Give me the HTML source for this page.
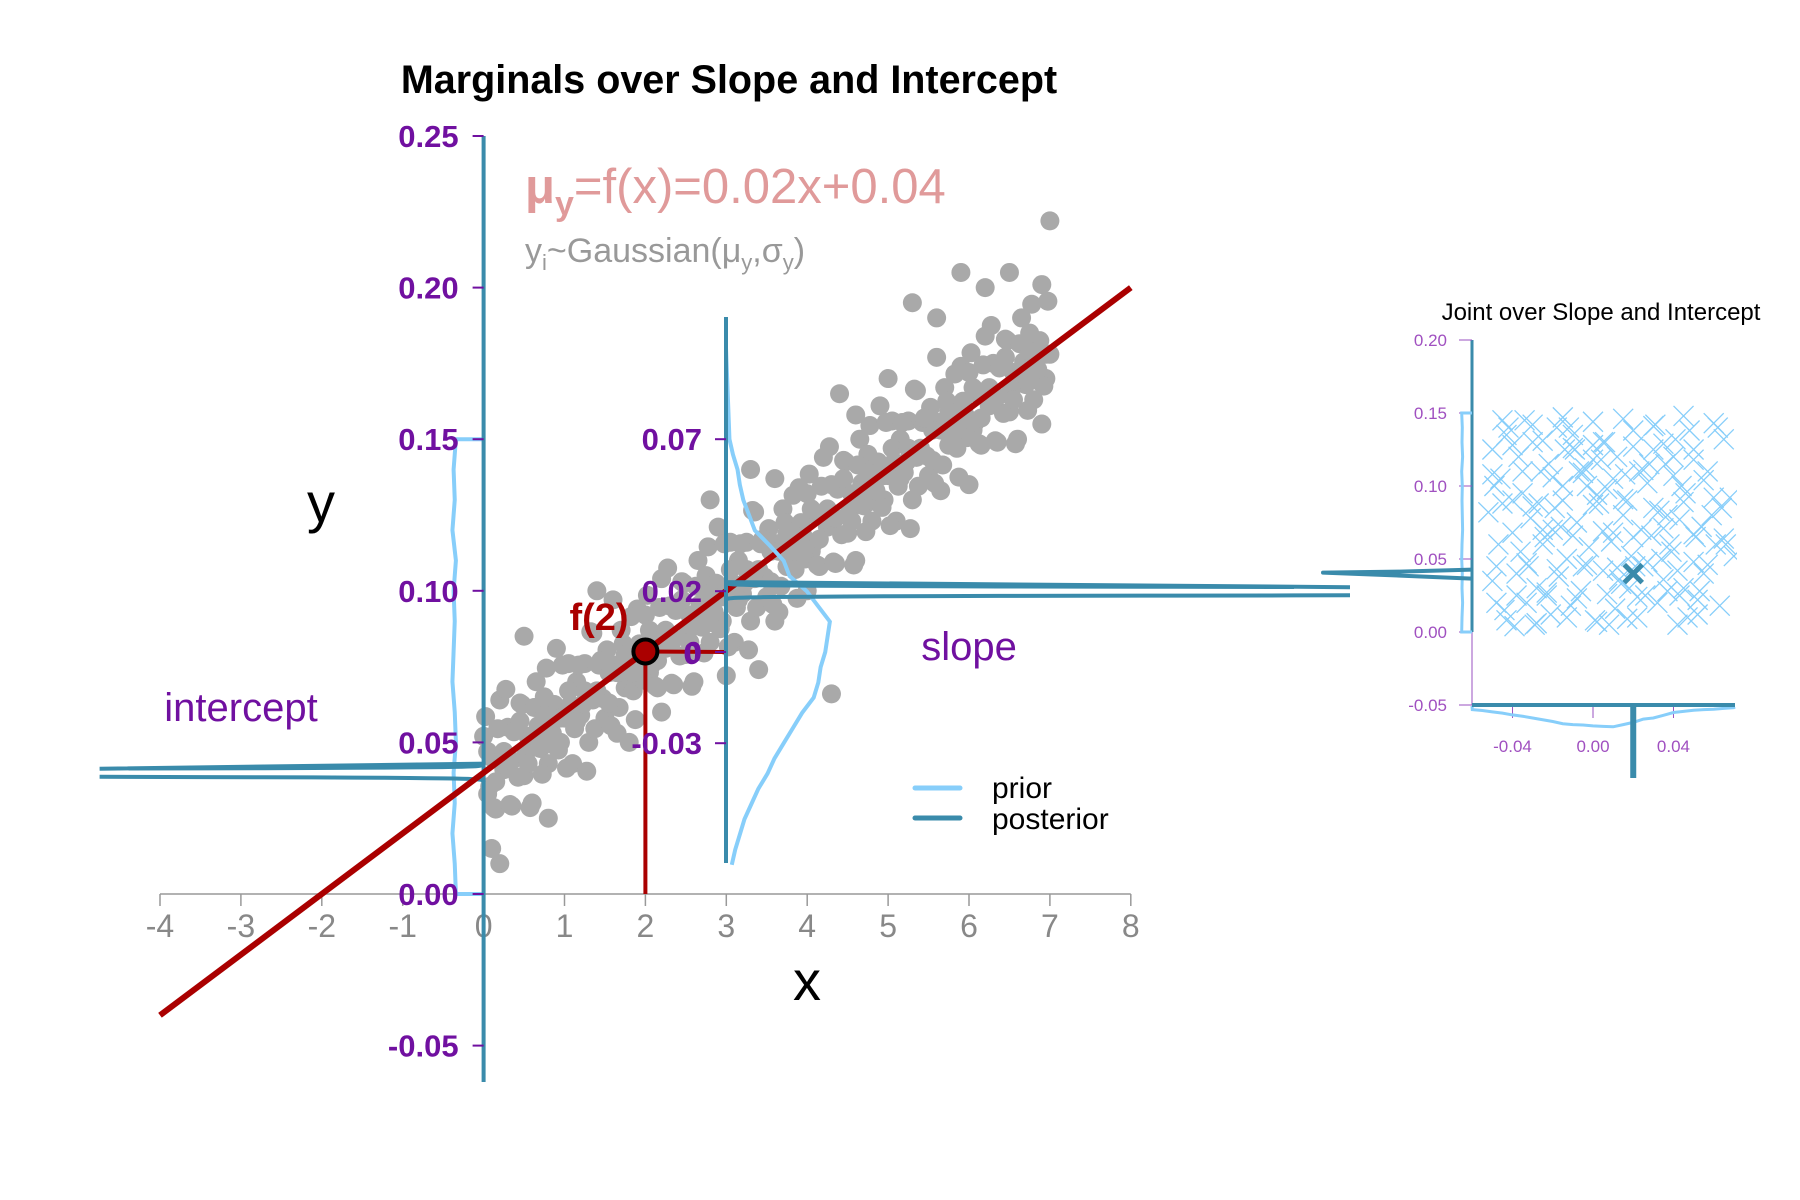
<!DOCTYPE html>
<html><head><meta charset="utf-8"><style>
html,body{margin:0;padding:0;background:#fff;}
svg{display:block;font-family:"Liberation Sans",sans-serif;}
</style></head><body>
<svg id="chart" width="1800" height="1200" viewBox="0 0 1800 1200">
<defs><clipPath id="jclip"><rect x="1300" y="390" width="437" height="260"/></clipPath></defs>
<text x="729" y="93" text-anchor="middle" font-size="39.5" font-weight="bold" fill="#000">Marginals over Slope and Intercept</text>
<g id="main"></g>
<g id="joint"></g>
<text x="525" y="203" font-size="49" fill="#e09a9a"><tspan font-weight="bold">μ</tspan><tspan font-size="34" dy="12" font-weight="bold">y</tspan><tspan dy="-12">=f(x)=0.02x+0.04</tspan></text>
<text x="525" y="262" font-size="34" fill="#999">y<tspan font-size="22" dy="8">i</tspan><tspan dy="-8">~Gaussian(μ</tspan><tspan font-size="22" dy="8">y</tspan><tspan dy="-8">,σ</tspan><tspan font-size="22" dy="8">y</tspan><tspan dy="-8">)</tspan></text>
<text x="321" y="522" font-size="56" text-anchor="middle" fill="#000">y</text>
<text x="807" y="1000" font-size="56" text-anchor="middle" fill="#000">x</text>
<text x="241" y="721" font-size="40" text-anchor="middle" fill="#7010a0">intercept</text>
<text x="969" y="660" font-size="40" text-anchor="middle" fill="#7010a0">slope</text>
<text x="599" y="630" font-size="38" font-weight="bold" text-anchor="middle" fill="#aa0000">f(2)</text>
<g>
<line x1="915" y1="788" x2="960" y2="788" stroke="#87cefa" stroke-width="5" stroke-linecap="round"/>
<line x1="915" y1="818" x2="960" y2="818" stroke="#3a8bab" stroke-width="5" stroke-linecap="round"/>
<text x="992" y="798" font-size="30" fill="#000">prior</text>
<text x="992" y="829" font-size="30" fill="#000">posterior</text>
</g>
<text x="1601" y="320" font-size="24" text-anchor="middle" fill="#000">Joint over Slope and Intercept</text>
</svg>
<script>
const ptX=[0,0.05,0.1,0.15,0.2,0.25,0.3,0.35,0.4,0.45,0.5,0.55,0.6,0.65,0.7,0.75,0.8,0.85,0.9,0.95,1,1.05,1.1,1.15,1.2,1.25,1.3,1.35,1.4,1.45,1.5,1.55,1.6,1.65,1.7,1.75,1.8,1.85,1.9,1.95,2,2.05,2.1,2.15,2.2,2.25,2.3,2.35,2.4,2.45,2.5,2.55,2.6,2.65,2.7,2.75,2.8,2.85,2.9,2.95,3,3.05,3.1,3.15,3.2,3.25,3.3,3.35,3.4,3.45,3.5,3.55,3.6,3.65,3.7,3.75,3.8,3.85,3.9,3.95,4,4.05,4.1,4.15,4.2,4.25,4.3,4.35,4.4,4.45,4.5,4.55,4.6,4.65,4.7,4.75,4.8,4.85,4.9,4.95,5,5.05,5.1,5.15,5.2,5.25,5.3,5.35,5.4,5.45,5.5,5.55,5.6,5.65,5.7,5.75,5.8,5.85,5.9,5.95,6,6.05,6.1,6.15,6.2,6.25,6.3,6.35,6.4,6.45,6.5,6.55,6.6,6.65,6.7,6.75,6.8,6.85,6.9,6.95,7,
7.0,5.3,4.3,3.4,6.5,6.2,5.6,5.0,4.6,3.3,2.8,1.4,0.5,0.2,0.1,3.6,4.0,6.0,6.9,2.2,1.8,0.8,5.9,4.4,3.0];
const ptY=[0.052,0.033,0.045,0.028,0.064,0.041,0.055,0.029,0.054,0.063,0.039,0.052,0.030,0.070,0.048,0.065,0.043,0.061,0.081,0.050,0.058,0.076,0.043,0.070,0.059,0.076,0.050,0.086,0.067,0.077,0.058,0.073,0.097,0.053,0.087,0.068,0.081,0.067,0.094,0.076,0.092,0.073,0.085,0.068,0.104,0.081,0.095,0.069,0.094,0.103,0.079,0.092,0.070,0.110,0.088,0.105,0.083,0.101,0.121,0.090,0.098,0.116,0.083,0.110,0.099,0.116,0.090,0.126,0.107,0.117,0.098,0.113,0.137,0.093,0.127,0.108,0.121,0.107,0.134,0.116,0.132,0.113,0.125,0.108,0.144,0.121,0.135,0.109,0.134,0.143,0.119,0.132,0.110,0.150,0.128,0.145,0.123,0.141,0.161,0.130,0.138,0.156,0.123,0.150,0.139,0.156,0.130,0.166,0.147,0.157,0.138,0.153,0.177,0.133,0.167,0.148,0.161,0.147,0.174,0.156,0.172,0.153,0.165,0.148,0.184,0.161,0.175,0.149,0.174,0.183,0.159,0.172,0.150,0.190,0.168,0.185,0.163,0.181,0.201,0.170,0.178,
0.222,0.195,0.066,0.074,0.205,0.200,0.190,0.170,0.158,0.140,0.130,0.100,0.085,0.010,0.015,0.090,0.100,0.135,0.155,0.060,0.050,0.025,0.205,0.165,0.072];
const ptX2=[0.025,0.075,0.125,0.175,0.225,0.275,0.325,0.375,0.425,0.475,0.525,0.575,0.625,0.675,0.725,0.775,0.825,0.875,0.925,0.975,1.025,1.075,1.125,1.175,1.225,1.275,1.325,1.375,1.425,1.475,1.525,1.575,1.625,1.675,1.725,1.775,1.825,1.875,1.925,1.975,2.025,2.075,2.125,2.175,2.225,2.275,2.325,2.375,2.425,2.475,2.525,2.575,2.625,2.675,2.725,2.775,2.825,2.875,2.925,2.975,3.025,3.075,3.125,3.175,3.225,3.275,3.325,3.375,3.425,3.475,3.525,3.575,3.625,3.675,3.725,3.775,3.825,3.875,3.925,3.975,4.025,4.075,4.125,4.175,4.225,4.275,4.325,4.375,4.425,4.475,4.525,4.575,4.625,4.675,4.725,4.775,4.825,4.875,4.925,4.975,5.025,5.075,5.125,5.175,5.225,5.275,5.325,5.375,5.425,5.475,5.525,5.575,5.625,5.675,5.725,5.775,5.825,5.875,5.925,5.975,6.025,6.075,6.125,6.175,6.225,6.275,6.325,6.375,6.425,6.475,6.525,6.575,6.625,6.675,6.725,6.775,6.825,6.875,6.925,6.975];
const ptY2=[0.0585,0.0355,0.0285,0.0545,0.0435,0.0675,0.0295,0.0535,0.0385,0.0625,0.0465,0.0285,0.0615,0.0555,0.0395,0.0745,0.0495,0.0625,0.0475,0.0755,0.0415,0.0625,0.0545,0.0755,0.0625,0.0405,0.0865,0.0545,0.0755,0.0645,0.0805,0.0555,0.0755,0.0615,0.0825,0.0725,0.0915,0.0575,0.0825,0.0705,0.0985,0.0755,0.0685,0.0945,0.0835,0.1075,0.0695,0.0935,0.0785,0.1025,0.0865,0.0685,0.1015,0.0955,0.0795,0.1145,0.0895,0.1025,0.0875,0.1155,0.0815,0.1025,0.0945,0.1155,0.1025,0.0805,0.1265,0.0945,0.1155,0.1045,0.1205,0.0955,0.1155,0.1015,0.1225,0.1125,0.1315,0.0975,0.1225,0.1105,0.1385,0.1155,0.1085,0.1345,0.1235,0.1475,0.1095,0.1335,0.1185,0.1425,0.1265,0.1085,0.1415,0.1355,0.1195,0.1545,0.1295,0.1425,0.1275,0.1555,0.1215,0.1425,0.1345,0.1555,0.1425,0.1205,0.1665,0.1345,0.1555,0.1445,0.1605,0.1355,0.1555,0.1415,0.1625,0.1525,0.1715,0.1375,0.1625,0.1505,0.1785,0.1555,0.1485,0.1745,0.1635,0.1875,0.1495,0.1735,0.1585,0.1825,0.1665,0.1485,0.1815,0.1755,0.1595,0.1945,0.1695,0.1825,0.1675,0.1955];
const ptX3=[0.05,0.15,0.25,0.35,0.45,0.55,0.65,0.75,0.85,0.95,1.05,1.15,1.25,1.35,1.45,1.55,1.65,1.75,1.85,1.95,2.05,2.15,2.25,2.35,2.45,2.55,2.65,2.75,2.85,2.95,3.05,3.15,3.25,3.35,3.45,3.55,3.65,3.75,3.85,3.95,4.05,4.15,4.25,4.35,4.45,4.55,4.65,4.75,4.85,4.95,5.05,5.15,5.25,5.35,5.45,5.55,5.65,5.75,5.85,5.95,6.05,6.15,6.25,6.35,6.45,6.55,6.65,6.75,6.85,6.95];
const ptY3=[0.047,0.037,0.047,0.044,0.057,0.043,0.053,0.059,0.053,0.058,0.067,0.057,0.067,0.064,0.077,0.063,0.073,0.079,0.073,0.078,0.087,0.077,0.087,0.084,0.097,0.083,0.093,0.099,0.093,0.098,0.107,0.097,0.107,0.104,0.117,0.103,0.113,0.119,0.113,0.118,0.127,0.117,0.127,0.124,0.137,0.123,0.133,0.139,0.133,0.138,0.147,0.137,0.147,0.144,0.157,0.143,0.153,0.159,0.153,0.158,0.167,0.157,0.167,0.164,0.177,0.163,0.173,0.179,0.173,0.178];
const yTicks=[0.25,0.20,0.15,0.10,0.05,0.00,-0.05];
const yTickLabels=["0.25","0.20","0.15","0.10","0.05","0.00","-0.05"];
const xTicks=[-4,-3,-2,-1,0,1,2,3,4,5,6,7,8];
const slopeTicks=[0.07,0.02,0,-0.03];
const slopeTickLabels=["0.07","0.02","0","-0.03"];
const lineSlope=0.02, lineIntercept=0.04, markX=2;
const slopePriorS=[0.1,0.09,0.08,0.07,0.065,0.06,0.055,0.05,0.045,0.04,0.035,0.03,0.025,0.02,0.015,0.01,0.005,0,-0.005,-0.01,-0.015,-0.02,-0.025,-0.03,-0.035,-0.04,-0.045,-0.05,-0.055,-0.06,-0.065,-0.07];
const slopePriorD=[0,1,2,3,6,10,12,15,20,25,38,50,55,70,80,90,88,86,82,80,76,66,58,50,42,36,28,22,16,12,8,5];
const intPriorV=[0.15,0.14,0.13,0.12,0.11,0.10,0.09,0.08,0.07,0.06,0.05,0.04,0.03,0.02,0.01,0.0];
const intPriorD=[24,26,25,27,24,26,25,26,27,25,24,26,25,27,25,24];
const postSlopeMean=0.02, postIntMean=0.04;
const crossS=[-0.05,-0.042,-0.03,-0.022,-0.01,0.0,0.012,0.02,0.03,0.041,0.05,0.062,-0.046,-0.035,-0.026,-0.015,-0.004,0.007,0.016,0.027,0.036,0.046,0.057,0.068,-0.052,-0.04,-0.031,-0.019,-0.008,0.003,0.015,0.024,0.033,0.043,0.054,0.064,-0.047,-0.036,-0.024,-0.013,-0.002,0.009,0.019,0.029,0.039,0.05,0.061,0.07,-0.05,-0.038,-0.028,-0.017,-0.006,0.005,0.014,0.026,0.035,0.045,0.055,-0.044,-0.033,-0.021,-0.011,0.001,0.011,0.022,0.032,0.042,0.052,0.063,-0.049,-0.037,-0.027,-0.016,-0.005,0.006,0.017,0.028,0.038,0.048,0.059,-0.043,-0.032,-0.02,-0.009,0.002,0.013,0.023,0.034,0.044,0.053,0.066,-0.048,-0.034,-0.023,-0.012,0.0,0.01,0.021,0.031,0.04,0.051,-0.039,-0.025,-0.014,-0.003,0.008,0.018,0.037,0.047,-0.029,-0.018,-0.007,0.004,0.025,0.043,
-0.045,-0.03,-0.015,0.0,0.015,0.03,0.045,0.06,-0.04,-0.025,-0.01,0.005,0.02,0.035,0.05,0.065,-0.05,-0.035,-0.02,-0.005,0.01,0.025,0.04,0.055,-0.045,-0.03,-0.015,0.0,0.015,0.03,0.045,0.06,-0.04,-0.025,-0.01,0.005,0.02,0.035,0.05,0.065,-0.048,-0.033,-0.018,-0.003,0.012,0.027,0.042,0.057,-0.038,-0.023,-0.008,0.007,0.022,0.037,0.052,-0.043,-0.028,-0.013,0.002,0.017];
const crossI=[0.125,0.14,0.13,0.115,0.135,0.128,0.12,0.138,0.125,0.132,0.118,0.14,0.105,0.095,0.11,0.1,0.112,0.098,0.108,0.102,0.115,0.095,0.11,0.092,0.082,0.09,0.078,0.085,0.075,0.088,0.08,0.07,0.083,0.077,0.072,0.085,0.06,0.055,0.065,0.05,0.058,0.062,0.052,0.066,0.055,0.048,0.06,0.052,0.035,0.04,0.03,0.038,0.028,0.042,0.033,0.025,0.036,0.03,0.04,0.015,0.02,0.012,0.018,0.008,0.016,0.01,0.02,0.005,0.012,0.018,0.1,0.12,0.088,0.072,0.045,0.13,0.09,0.115,0.06,0.138,0.08,0.135,0.045,0.07,0.125,0.094,0.036,0.11,0.05,0.1,0.028,0.06,0.02,0.145,0.025,0.14,0.118,0.068,0.045,0.142,0.12,0.065,0.004,0.06,0.125,0.1,0.005,0.03,0.08,0.01,0.005,0.14,0.11,0.118,0.045,0.025,
0.145,0.142,0.147,0.144,0.146,0.141,0.148,0.143,0.128,0.131,0.126,0.13,0.127,0.129,0.125,0.132,0.108,0.11,0.106,0.109,0.105,0.111,0.107,0.104,0.088,0.086,0.09,0.087,0.091,0.085,0.089,0.092,0.068,0.07,0.066,0.069,0.065,0.071,0.067,0.064,0.045,0.047,0.043,0.046,0.044,0.048,0.042,0.046,0.025,0.027,0.023,0.026,0.024,0.028,0.022,0.008,0.006,0.01,0.007,0.009];

const NS='http://www.w3.org/2000/svg';
function mk(parent,tag,attrs){const e=document.createElementNS(NS,tag);for(const k in attrs)e.setAttribute(k,attrs[k]);parent.appendChild(e);return e;}
const X=v=>483.6+v*80.9, Y=v=>894-v*3032, SAX=726, S=s=>652-s*3040;
const JX=s=>1593+s*2012, JY=i=>632-i*1460, JAX=1472, JAY=705;
const DS=1.154;
const mainG=document.getElementById('main');
const blue='#3a8bab', lb='#87cefa', purple='#7010a0';

const pg=mk(mainG,'g',{});


function drawPts(xs,ys){
  for(let i=0;i<xs.length;i++){
    const c=mk(pg,'circle',{cx:X(xs[i]),cy:Y(ys[i]),r:9.5,fill:'#a9a9a9'});
    
    
  }
}
drawPts(ptX,ptY);drawPts(ptX2,ptY2);drawPts(ptX3,ptY3);
const xa=mk(mainG,'line',{x1:X(-4),y1:894,x2:X(8),y2:894,stroke:'#999','stroke-width':1.5});


xTicks.forEach(t=>{
  const tk=mk(mainG,'line',{x1:X(t),y1:894,x2:X(t),y2:906,stroke:'#999','stroke-width':1.5});
  
  
  const tl=mk(mainG,'text',{x:X(t),y:937,'text-anchor':'middle','font-size':32,fill:'#888'});
  tl.textContent=String(t);
  
  
});
let d='M'+X(0)+','+Y(intPriorV[0]);
intPriorV.forEach((v,i)=>{d+=' L'+(X(0)-intPriorD[i]*DS)+','+Y(v);});
d+=' L'+X(0)+','+Y(0);
const ip=mk(mainG,'path',{d:d,fill:'none',stroke:lb,'stroke-width':4});


const ya=mk(mainG,'line',{x1:X(0),y1:136,x2:X(0),y2:1082,stroke:blue,'stroke-width':4});


yTicks.forEach((t,i)=>{
  const tk=mk(mainG,'line',{x1:X(0)-11,y1:Y(t),x2:X(0),y2:Y(t),stroke:purple,'stroke-width':2});
  
  
  const tl=mk(mainG,'text',{x:X(0)-25,y:Y(t)+11,'text-anchor':'end','font-size':31,'font-weight':'bold',fill:purple});
  tl.textContent=yTickLabels[i];
  
  
});
function spike(mean,sd,peak,maxLen){const pts=[];for(let k=-50;k<=50;k++){const v=mean+k*sd*0.1;pts.push([v,Math.min(maxLen,peak*Math.exp(-((v-mean)**2)/(2*sd*sd)))]);}return pts;}
function pl(a){return a.map((p,i)=>(i?'L':'M')+p[0].toFixed(1)+','+p[1].toFixed(1)).join(' ');}
function spikePath(pts,mean,maxLen,toXY){
  const lo=[],hi=[];let tipLo=null,tipHi=null;
  pts.forEach(p=>{
    if(p[1]>=maxLen){ if(p[0]<=mean){ if(!tipLo) tipLo=toXY(p);} else tipHi=toXY(p); return; }
    if(p[0]<mean) lo.push(toXY(p)); else hi.push(toXY(p));
  });
  if(tipLo) lo.push(tipLo);
  const hiR=hi.reverse(); if(tipHi) hiR.unshift(tipHi);
  return pl(lo)+' '+pl(hiR);
}
let sp=spike(postIntMean,0.0006,5000,384);
const ipost=mk(mainG,'path',{d:spikePath(sp,postIntMean,384,p=>[X(0)-p[1],Y(p[0])]),fill:'none',stroke:blue,'stroke-width':4});


const rl=mk(mainG,'line',{x1:X(-4),y1:Y(lineIntercept+lineSlope*-4),x2:X(8),y2:Y(lineIntercept+lineSlope*8),stroke:'#aa0000','stroke-width':6});


d='M'+SAX+','+S(slopePriorS[0]);
slopePriorS.forEach((s,i)=>{d+=' L'+(SAX+slopePriorD[i]*DS)+','+S(s);});
const spr=mk(mainG,'path',{d:d,fill:'none',stroke:lb,'stroke-width':4});


const fv=lineIntercept+lineSlope*markX;
const g1=mk(mainG,'line',{x1:X(markX),y1:Y(fv),x2:X(markX),y2:894,stroke:'#aa0000','stroke-width':4});


const g2=mk(mainG,'line',{x1:X(markX),y1:Y(fv),x2:SAX,y2:S(0),stroke:'#aa0000','stroke-width':4});


const sa=mk(mainG,'line',{x1:SAX,y1:317,x2:SAX,y2:863,stroke:blue,'stroke-width':4});


slopeTicks.forEach((t,i)=>{
  const tk=mk(mainG,'line',{x1:SAX-11,y1:S(t),x2:SAX,y2:S(t),stroke:purple,'stroke-width':2});
  
  
  const tl=mk(mainG,'text',{x:SAX-24,y:S(t)+11,'text-anchor':'end','font-size':31,'font-weight':'bold',fill:purple});
  tl.textContent=slopeTickLabels[i];
  
  
});
sp=spike(postSlopeMean,0.0006,8000,624);
const spo=mk(mainG,'path',{d:spikePath(sp,postSlopeMean,624,p=>[SAX+p[1],S(p[0])]),fill:'none',stroke:blue,'stroke-width':4});


const dot=mk(mainG,'circle',{cx:X(markX),cy:Y(fv),r:12,fill:'#aa0000',stroke:'#000','stroke-width':4});


const zl=mk(mainG,'text',{x:692,y:664,'text-anchor':'middle','font-size':31,'font-weight':'bold',fill:purple});
zl.textContent='0';



const joint=document.getElementById('joint');
const jc=mk(joint,'g',{'clip-path':'url(#jclip)'});


for(let i=0;i<crossS.length;i++){
  const cx=JX(crossS[i]),cy=JY(crossI[i]),h=10;
  const c=mk(jc,'path',{d:`M${cx-h},${cy-h}L${cx+h},${cy+h}M${cx-h},${cy+h}L${cx+h},${cy-h}`,stroke:lb,'stroke-width':1.3,fill:'none'});
  
  
}
const jm=mk(joint,'path',{d:`M${JX(postSlopeMean)-9},${JY(postIntMean)-9}L${JX(postSlopeMean)+9},${JY(postIntMean)+9}M${JX(postSlopeMean)-9},${JY(postIntMean)+9}L${JX(postSlopeMean)+9},${JY(postIntMean)-9}`,stroke:blue,'stroke-width':5,fill:'none'});


const jya=mk(joint,'line',{x1:JAX,y1:JY(0.2),x2:JAX,y2:JAY,stroke:'#9a50c0','stroke-width':1});


const jyb=mk(joint,'line',{x1:JAX,y1:JY(0.2),x2:JAX,y2:JY(0),stroke:blue,'stroke-width':3});


const jtY=[0.2,0.15,0.1,0.05,0,-0.05], jtYL=["0.20","0.15","0.10","0.05","0.00","-0.05"];
jtY.forEach((t,i)=>{
  const tk=mk(joint,'line',{x1:JAX-13,y1:JY(t),x2:JAX,y2:JY(t),stroke:'#9a50c0','stroke-width':1});
  
  
  const tl=mk(joint,'text',{x:1447,y:JY(t)+6,'text-anchor':'end','font-size':17,fill:'#a050c0'});
  tl.textContent=jtYL[i];
  
  
});
const jtX=[-0.04,0,0.04], jtXL=["-0.04","0.00","0.04"];
jtX.forEach((t,i)=>{
  const tk=mk(joint,'line',{x1:JX(t),y1:JAY,x2:JX(t),y2:JAY+13,stroke:'#9a50c0','stroke-width':1});
  
  
  const tl=mk(joint,'text',{x:JX(t),y:752,'text-anchor':'middle','font-size':17,fill:'#a050c0'});
  tl.textContent=jtXL[i];
  
  
});
d=`M${JAX},${JY(0.15)} L${JAX-10},${JY(0.15)}`;
intPriorV.forEach((v,i)=>{d+=` L${JAX-10+(intPriorD[i]-25)*0.3},${JY(v)}`;});
d+=` L${JAX},${JY(0)}`;
const jip=mk(joint,'path',{d:d,fill:'none',stroke:lb,'stroke-width':3});


d=`M${JAX},${JAY+1}`;
for(let k=slopePriorS.length-1;k>=0;k--){const s=slopePriorS[k];if(JX(s)>=JAX&&JX(s)<=1735)d+=` L${JX(s)},${JAY+2+slopePriorD[k]*0.22}`;}
d+=` L1735,${JAY+2}`;
const jsp=mk(joint,'path',{d:d,fill:'none',stroke:lb,'stroke-width':3});


const jxa=mk(joint,'line',{x1:JAX,y1:JAY,x2:1735,y2:JAY,stroke:blue,'stroke-width':4});


const jis=mk(joint,'path',{d:`M${JAX},${JY(postIntMean)-4} L1400,${JY(postIntMean)-2} L1323,${JY(postIntMean)-1} L1400,${JY(postIntMean)+2} L${JAX},${JY(postIntMean)+5}`,fill:'none',stroke:blue,'stroke-width':4,'stroke-linejoin':'round'});


const jss=mk(joint,'rect',{x:JX(postSlopeMean)-3,y:JAY,width:6,height:73,fill:blue});


</script>
</body></html>
